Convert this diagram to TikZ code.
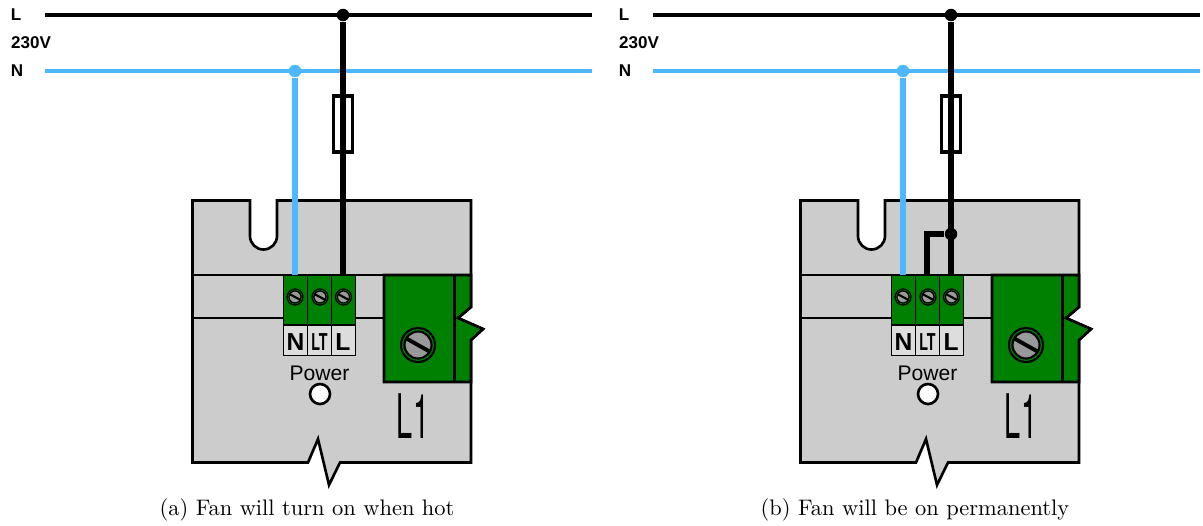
\documentclass[tikz,border=0pt]{standalone}
\usepackage{fontspec}
\setsansfont{Liberation Sans}
\newfontfamily\herosfont{TeX Gyre Heros}
\usepackage{xcolor}
\usetikzlibrary{arrows.meta,positioning,calc}
\definecolor{wireblue}{HTML}{4DB8FF}
\definecolor{bodygrey}{HTML}{CCCCCC}
\definecolor{labelgrey}{HTML}{DDDDDD}
\definecolor{screwgrey}{HTML}{999999}
\definecolor{blockgreen}{HTML}{008000}
\tikzset{
  wire/.style={line width=2.1pt,black},
  drop/.style={line width=3pt,black},
  nwire/.style={line width=2.1pt,wireblue},
  ndrop/.style={line width=3pt,wireblue},
  outline/.style={draw=black,line width=1.5pt,line join=miter},
  thinline/.style={draw=black,line width=1.2pt},
  termline/.style={draw=black,line width=.8pt},
  joint/.style={circle,fill=black,inner sep=0pt,minimum size=2.5mm},
  njoint/.style={circle,fill=wireblue,inner sep=0pt,minimum size=2.5mm},
  tag/.style={font=\fontsize{9.7}{11}\sffamily\bfseries,inner sep=0pt},
  termtag/.style={font=\fontsize{14}{15}\sffamily,inner sep=0pt},
  captag/.style={inner sep=0pt},
  screw/.pic={
    \draw[line width=.7pt,fill=blockgreen] (0,0) circle (8);
    \draw[line width=.7pt,fill=screwgrey] (0,0) circle (6);
    \draw[line width=1.2pt] (-5.5,-3) -- (5.5,3);
  },
  bigscrew/.pic={
    \draw[line width=1.2pt,fill=blockgreen] (0,0) circle (17);
    \draw[line width=1.2pt,fill=screwgrey] (0,0) circle (13.5);
    \draw[line width=2.2pt] (-12.5,-7) -- (12.5,7);
  },
  panel/.pic={
    % supply lines
    \coordinate (Lstart) at (45,15);
    \coordinate (Lend) at (592,15);
    \coordinate (Nstart) at (45,71);
    \coordinate (Nend) at (592,71);
    \node[joint] (Ljoint) at (343,15) {};
    \node[njoint] (Njoint) at (295,71) {};
    \node[tag] (Ltag) at (16,15) {L};
    \node[tag] (Vtag) at (31,43) {230V};
    \node[tag] (Ntag) at (17,71) {N};
    \draw[wire] (Lstart) -- (Lend);
    \draw[nwire] (Nstart) -- (Nend);
    % body of the unit
    \draw[outline,fill=bodygrey] (192.5,200.5) -- (250,200.5) -- (250,236)
      arc[start angle=180,end angle=360,x radius=13.5,y radius=-13.5]
      -- (277,200.5) -- (471,200.5) -- (471,307) -- (458,318) -- (483,329) -- (471,340)
      -- (471,462.5) -- (340,462.5)
      -- (329,485) -- (318,439) -- (308,462.5) -- (192.5,462.5) -- cycle;
    \draw[thinline] (192.5,275) -- (471,275);
    \draw[thinline] (192.5,318) -- (384,318);
    % terminal block
    \draw[termline,fill=blockgreen] (283.5,275) rectangle (355.5,325);
    \draw[draw=black,line width=.5pt,fill=labelgrey] (283.5,325) rectangle (355.5,355.5);
    \draw[termline] (307.5,275) -- (307.5,325);
    \draw[termline] (331.5,275) -- (331.5,325);
    \draw[line width=.5pt] (307.5,325) -- (307.5,355.5);
    \draw[line width=.5pt] (331.5,325) -- (331.5,355.5);
    \pic at (295,297) {screw};
    \pic at (320,297) {screw};
    \pic at (343.5,297) {screw};
    \node[termtag] (Nterm) at (295.5,342.5) {\bfseries N};
    \node[termtag] (LTterm) at (319.5,342.5) {\scalebox{.58}[1]{\bfseries LT}};
    \node[termtag] (Lterm) at (343,342.5) {\bfseries L};
    \node[font=\fontsize{12}{13}\sffamily,inner sep=0pt] (power) at (319.5,373) {Power};
    \draw[outline,fill=white] (320,394) circle (10);
    % relay block
    \draw[outline,fill=blockgreen] (384,275) -- (471,275) -- (471,307) -- (458,318)
      -- (483,329) -- (471,340) -- (471,382) -- (384,382) -- cycle;
    \draw[thinline] (454.5,275) -- (454.5,382);
    \pic at (418,345) {bigscrew};
    \node[font=\fontsize{35}{36}\herosfont,inner sep=0pt] (L1tag) at (413,416) {\scalebox{.47}[1]{L1}};
    % connections
    \coordinate (Nin) at (295,275);
    \coordinate (Lin) at (343,275);
    \draw[ndrop] (Njoint) -- (Nin);
    \draw[drop] (Ljoint) -- (Lin);
    \draw[outline,fill=white,line width=1.8pt] (333.5,96) rectangle (352.5,152);
    \draw[drop] (343,96) -- (343,152);
  }
}
\begin{document}
\begin{tikzpicture}[x=0.02cm,y=-0.02cm,>=Latex]
\useasboundingbox (0,0) rectangle (1203,525);
\pic (fana) at (0,0) {panel};
\pic (fanb) at (608,0) {panel};
% link for the permanent option
\node[joint] (bjoint) at (951,234) {};
\coordinate (LTin) at (927,275);
\draw[drop] (bjoint) -| (LTin);
\node[captag] (capa) at (307,510) {\scalebox{1.278}{(a) Fan will turn on when hot}};
\node[captag] (capb) at (915,510) {\scalebox{1.278}{(b) Fan will be on permanently}};
\end{tikzpicture}
\end{document}
